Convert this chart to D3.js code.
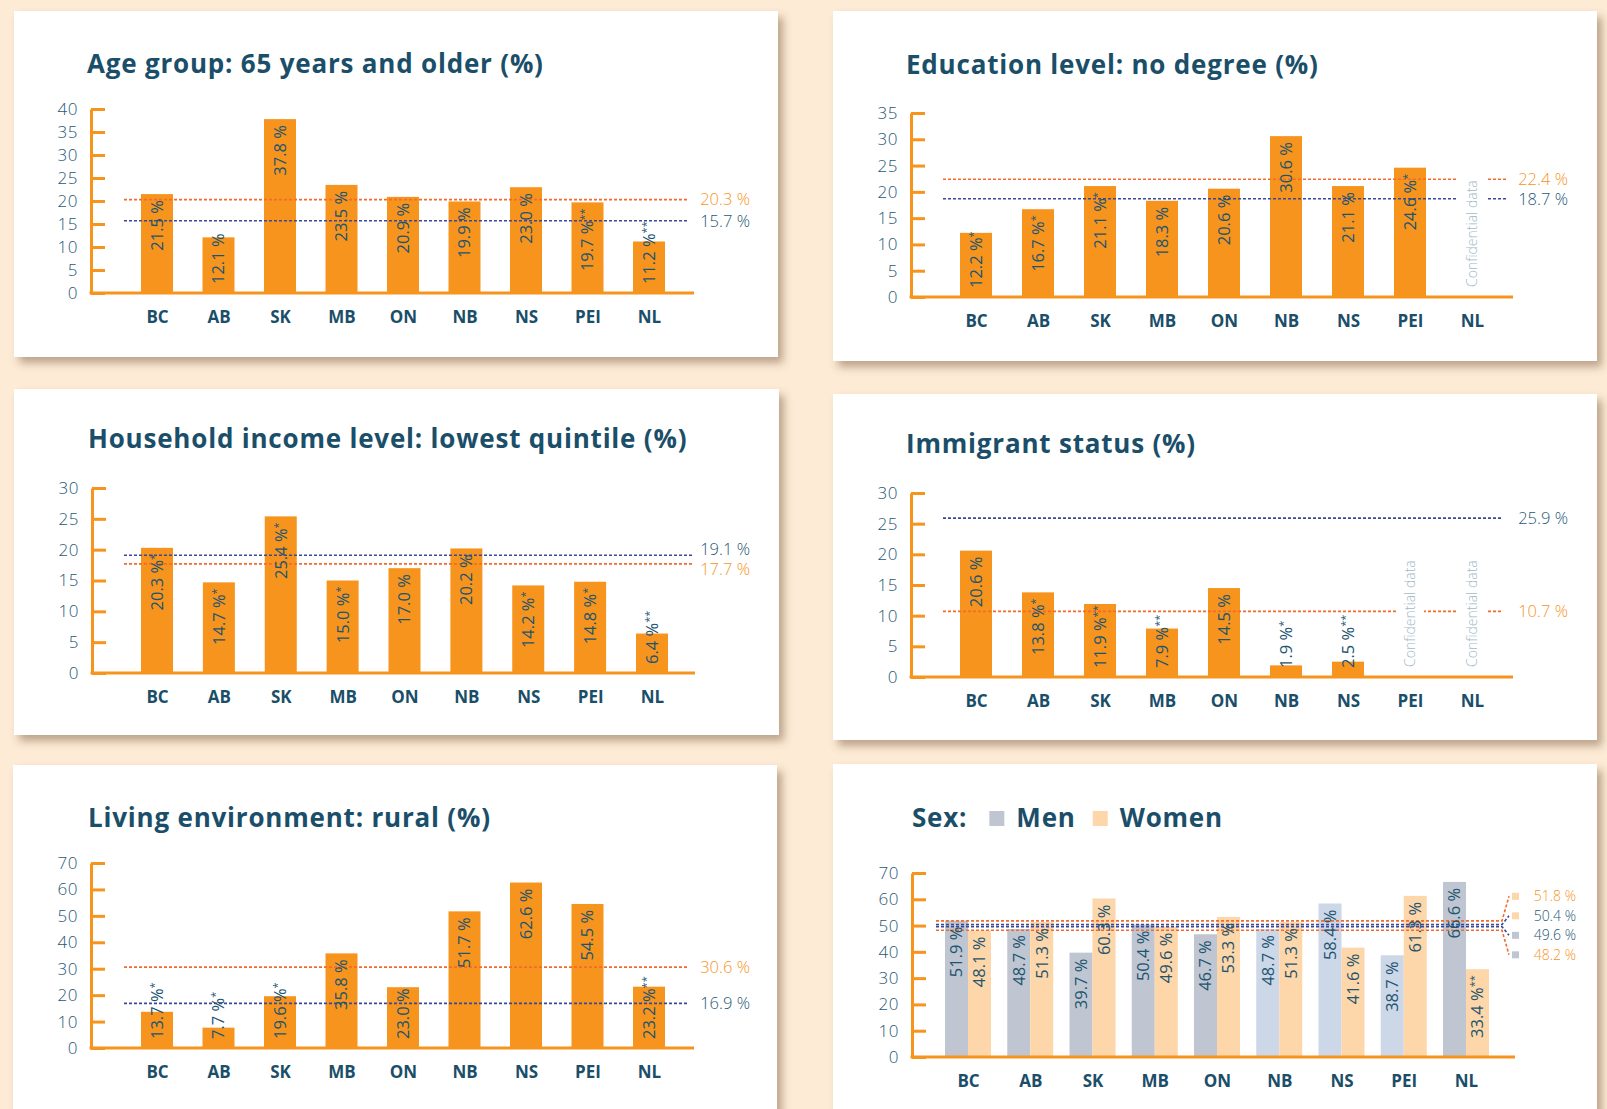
<!DOCTYPE html>
<html>
<head>
<meta charset="utf-8">
<script src="https://cdn.jsdelivr.net/npm/d3@7"></script>
<style>
html, body { margin: 0; padding: 0; background: #fdebd6; }
svg { display: block; font-family: "Open Sans", sans-serif; }
</style>
</head>
<body>
<svg id="chart" width="1607" height="1109"></svg>
<script>
// categories
const provinces = ["BC", "AB", "SK", "MB", "ON", "NB", "NS", "PEI", "NL"];

// Age group: 65 years and older
const ageValues = [21.5, 12.1, 37.8, 23.5, 20.9, 19.9, 23.0, 19.7, 11.2];
const ageFlags = ["", "", "", "", "", "", "", "**", "**"];
const ageRefs = [20.3, 15.7];          // [orange ref, blue ref]
const ageTicks = [0, 5, 10, 15, 20, 25, 30, 35, 40];

// Education level: no degree (null = confidential)
const eduValues = [12.2, 16.7, 21.1, 18.3, 20.6, 30.6, 21.1, 24.6, null];
const eduFlags = ["*", "*", "*", "", "", "", "", "*", ""];
const eduRefs = [22.4, 18.7];
const eduTicks = [0, 5, 10, 15, 20, 25, 30, 35];

// Household income level: lowest quintile
const incomeValues = [20.3, 14.7, 25.4, 15.0, 17.0, 20.2, 14.2, 14.8, 6.4];
const incomeFlags = ["*", "*", "*", "*", "", "", "*", "*", "**"];
const incomeRefs = [17.7, 19.1];
const incomeTicks = [0, 5, 10, 15, 20, 25, 30];

// Immigrant status
const immigValues = [20.6, 13.8, 11.9, 7.9, 14.5, 1.9, 2.5, null, null];
const immigFlags = ["", "*", "**", "**", "", "*", "**", "", ""];
const immigRefs = [10.7, 25.9];
const immigTicks = [0, 5, 10, 15, 20, 25, 30];

// Living environment: rural
const ruralValues = [13.7, 7.7, 19.6, 35.8, 23.0, 51.7, 62.6, 54.5, 23.2];
const ruralFlags = ["*", "*", "*", "", "", "", "", "", "**"];
const ruralRefs = [30.6, 16.9];
const ruralTicks = [0, 10, 20, 30, 40, 50, 60, 70];

// Sex
const menValues = [51.9, 48.7, 39.7, 50.4, 46.7, 48.7, 58.4, 38.7, 66.6];
const womenValues = [48.1, 51.3, 60.3, 49.6, 53.3, 51.3, 41.6, 61.3, 33.4];
const womenFlags = ["", "", "", "", "", "", "", "", "**"];
const menPale = ["NB", "NS", "PEI"];
const sexRefs = [
  {value: 51.8, ref: 0, sex: "women"},
  {value: 50.4, ref: 1, sex: "women"},
  {value: 49.6, ref: 1, sex: "men"},
  {value: 48.2, ref: 0, sex: "men"}
];
const sexTicks = [0, 10, 20, 30, 40, 50, 60, 70];

const COL = {
  axis: "#f7941d", bar: "#f7941d", text: "#1f5875", title: "#1a4e69",
  refLine: ["#f26b2d", "#3a4899"], refText: ["#f7941d", "#1f5875"],
  conf: "#9fb9c6", men: "#bfc6d1", menPale: "#ccd7e8", women: "#fdd6a9"
};

const layout = {
  age:    {x: 14,  y: 11,  w: 764, h: 346, titleX: 87,  titleY: 73,  axisX: 91,  top: 109, bottom: 293,  right: 694,  c0: 157, c1: 649,  lx0: 124, lx1: 689,  labelRight: 750},
  edu:    {x: 833, y: 11,  w: 764, h: 350, titleX: 906, titleY: 74,  axisX: 911, top: 113, bottom: 297,  right: 1513, c0: 976, c1: 1472, lx0: 943, lx1: 1506, labelRight: 1568},
  income: {x: 14,  y: 389, w: 765, h: 346, titleX: 88,  titleY: 448, axisX: 92,  top: 488, bottom: 673,  right: 695,  c0: 157, c1: 652,  lx0: 124, lx1: 692,  labelRight: 750},
  immig:  {x: 833, y: 394, w: 764, h: 346, titleX: 906, titleY: 453, axisX: 911, top: 493, bottom: 677,  right: 1513, c0: 976, c1: 1472, lx0: 943, lx1: 1501, labelRight: 1568},
  rural:  {x: 13,  y: 765, w: 764, h: 400, titleX: 88,  titleY: 827, axisX: 91,  top: 863, bottom: 1048, right: 694,  c0: 157, c1: 649,  lx0: 124, lx1: 689,  labelRight: 750},
  sex:    {x: 833, y: 764, w: 764, h: 400, titleX: 912, titleY: 827, axisX: 912, top: 873, bottom: 1057, right: 1515, c0: 968, c1: 1466, lx0: 936, lx1: 1502, labelRight: 1576}
};

const svg = d3.select("#chart");
const defs = svg.append("defs");
const filt = defs.append("filter").attr("id", "shadow")
  .attr("x", "-5%").attr("y", "-5%").attr("width", "115%").attr("height", "120%");
filt.append("feDropShadow").attr("dx", 5).attr("dy", 6).attr("stdDeviation", 4.5)
  .attr("flood-color", "#6b4a2a").attr("flood-opacity", 0.45);

svg.append("rect").attr("width", 1607).attr("height", 1109).attr("fill", "#fdebd6");

function titleText(g, x, y, s) {
  return g.append("text").attr("x", x).attr("y", y)
    .attr("fill", COL.title).attr("font-size", 26).attr("font-weight", 700)
    .attr("letter-spacing", 0.8).text(s);
}

// frame, title, axes -> returns scales
function frame(p, title, ticks) {
  const g = svg.append("g");
  g.append("rect").attr("x", p.x).attr("y", p.y).attr("width", p.w).attr("height", p.h)
    .attr("fill", "#fff").attr("filter", "url(#shadow)");
  const t = titleText(g, p.titleX, p.titleY, title);

  const y = d3.scaleLinear().domain([0, d3.max(ticks)]).range([p.bottom, p.top]);
  const x = d3.scalePoint().domain(provinces).range([p.c0, p.c1]);

  const yAxis = g.append("g").attr("transform", `translate(${p.axisX},0)`)
    .call(d3.axisLeft(y).tickValues(ticks).tickSizeInner(-14).tickSizeOuter(0).tickPadding(13));
  yAxis.select(".domain").attr("stroke", COL.axis).attr("stroke-width", 3);
  yAxis.selectAll(".tick line").attr("stroke", COL.axis).attr("stroke-width", 3);
  yAxis.selectAll(".tick text").attr("fill", COL.text).attr("font-size", 17)
    .attr("letter-spacing", 0.5).attr("font-weight", 300).attr("font-family", "Open Sans");

  const xAxis = g.append("g").attr("transform", `translate(0,${p.bottom})`)
    .call(d3.axisBottom(x).tickSize(0).tickPadding(18));
  xAxis.select(".domain").remove();
  xAxis.selectAll(".tick text").attr("fill", COL.title).attr("font-size", 17)
    .attr("font-weight", 700).attr("font-family", "Open Sans");

  return {g, x, y, t};
}

function baseline(f, p) {
  f.g.append("line").attr("x1", p.axisX - 1.5).attr("x2", p.right)
    .attr("y1", p.bottom).attr("y2", p.bottom)
    .attr("stroke", COL.axis).attr("stroke-width", 3);
}

// rotated value label inside the bar
function valueLabel(g, cx, yTop, yBottom, val, flag) {
  const t = g.append("text").attr("fill", "#1d5470").attr("font-size", 16.5)
    .attr("font-weight", 400).attr("dy", "0.36em");
  t.append("tspan").text(val.toFixed(1) + " %");
  if (flag) t.append("tspan").attr("font-size", 11).attr("dy", -5).text(flag);
  const len = t.node().getComputedTextLength();
  if (yBottom - yTop - 12 >= len) {
    t.attr("text-anchor", "end").attr("transform", `translate(${cx},${yTop + 6}) rotate(-90)`);
  } else {
    t.attr("text-anchor", "start").attr("transform", `translate(${cx},${yBottom - 9}) rotate(-90)`);
  }
}

function refLines(f, p, refs) {
  refs.forEach((v, i) => {
    f.g.append("line").attr("x1", p.lx0).attr("x2", p.lx1).attr("y1", f.y(v)).attr("y2", f.y(v))
      .attr("stroke", COL.refLine[i]).attr("stroke-width", 1.6).attr("stroke-dasharray", "3,2");
  });
  // labels, pushed apart when too close
  const ys = refs.map(v => f.y(v));
  if (Math.abs(ys[0] - ys[1]) < 20) {
    const mid = (ys[0] + ys[1]) / 2, s = ys[0] < ys[1] ? -1 : 1;
    ys[0] = mid + s * 10; ys[1] = mid - s * 10;
  }
  refs.forEach((v, i) => {
    f.g.append("text").attr("x", p.labelRight).attr("y", ys[i]).attr("dy", "0.35em")
      .attr("text-anchor", "end").attr("fill", COL.refText[i]).attr("font-size", 16.5)
      .attr("font-weight", 300).text(v.toFixed(1) + " %");
  });
}

function confidential(f, p, cat) {
  const cx = f.x(cat), y0 = f.y(0) - 10;
  const t = f.g.append("text").attr("fill", COL.conf).attr("font-size", 14).attr("font-weight", 300)
    .attr("dy", "0.35em").attr("transform", `translate(${cx},${y0}) rotate(-90)`).text("Confidential data");
  const len = t.node().getComputedTextLength();
  f.g.insert("rect", () => t.node()).attr("x", cx - 14).attr("y", y0 - len - 4)
    .attr("width", 28).attr("height", len + 8).attr("fill", "#fff");
}

function simpleChart(key, title, values, flags, refs, ticks) {
  const p = layout[key];
  const f = frame(p, title, ticks);
  const bw = 32;
  const data = provinces.map((c, i) => ({c, v: values[i], flag: flags[i]}));
  f.g.selectAll("rect.bar").data(data.filter(d => d.v !== null)).join("rect").attr("class", "bar")
    .attr("x", d => f.x(d.c) - bw / 2).attr("width", bw)
    .attr("y", d => f.y(d.v)).attr("height", d => f.y(0) - f.y(d.v))
    .attr("fill", COL.bar);
  baseline(f, p);
  refLines(f, p, refs);
  data.forEach(d => {
    if (d.v === null) confidential(f, p, d.c);
    else valueLabel(f.g, f.x(d.c), f.y(d.v), f.y(0), d.v, d.flag);
  });
}

simpleChart("age", "Age group: 65 years and older (%)", ageValues, ageFlags, ageRefs, ageTicks);
simpleChart("edu", "Education level: no degree (%)", eduValues, eduFlags, eduRefs, eduTicks);
simpleChart("income", "Household income level: lowest quintile (%)", incomeValues, incomeFlags, incomeRefs, incomeTicks);
simpleChart("immig", "Immigrant status (%)", immigValues, immigFlags, immigRefs, immigTicks);
simpleChart("rural", "Living environment: rural (%)", ruralValues, ruralFlags, ruralRefs, ruralTicks);

// Sex chart: grouped bars
(function () {
  const p = layout.sex;
  const f = frame(p, "Sex:", sexTicks);
  // legend in the title line
  let lx = p.titleX + f.t.node().getComputedTextLength() + 22;
  [["men", "Men"], ["women", "Women"]].forEach(([k, name]) => {
    f.g.append("rect").attr("x", lx).attr("y", p.titleY - 16).attr("width", 15).attr("height", 15)
      .attr("fill", COL[k]);
    const tt = titleText(f.g, lx + 27, p.titleY, name);
    lx += 27 + tt.node().getComputedTextLength() + 17;
  });

  const sub = d3.scaleBand().domain(["men", "women"]).range([-23, 23]);
  const data = provinces.map((c, i) => ({c, men: menValues[i], women: womenValues[i], flag: womenFlags[i]}));
  const groups = f.g.selectAll("g.grp").data(data).join("g").attr("class", "grp")
    .attr("transform", d => `translate(${f.x(d.c)},0)`);
  groups.selectAll("rect").data(d => ["men", "women"].map(k => ({k, v: d[k], c: d.c})))
    .join("rect")
    .attr("x", d => sub(d.k)).attr("width", sub.bandwidth())
    .attr("y", d => f.y(d.v)).attr("height", d => f.y(0) - f.y(d.v))
    .attr("fill", d => d.k === "men" ? (menPale.includes(d.c) ? COL.menPale : COL.men) : COL.women);
  baseline(f, p);

  // reference lines with leaders to stacked labels
  const ys = sexRefs.map(r => f.y(r.value));
  const mid = d3.mean(ys);
  sexRefs.forEach((r, i) => {
    const yl = mid + (i - 1.5) * 19.5;
    f.g.append("path")
      .attr("d", `M${p.lx0},${ys[i]}H${p.lx1}L${p.lx1 + 7},${yl}`)
      .attr("fill", "none").attr("stroke", COL.refLine[r.ref]).attr("stroke-width", 1.6)
      .attr("stroke-dasharray", "3,2");
    f.g.append("rect").attr("x", p.lx1 + 10).attr("y", yl - 3.5).attr("width", 7).attr("height", 7)
      .attr("fill", COL[r.sex]);
    f.g.append("text").attr("x", p.labelRight).attr("y", yl).attr("dy", "0.35em")
      .attr("text-anchor", "end").attr("fill", COL.refText[r.ref]).attr("font-size", 14)
      .attr("font-weight", 300).text(r.value.toFixed(1) + " %");
  });

  data.forEach(d => {
    const cx = f.x(d.c);
    valueLabel(f.g, cx + sub("men") + sub.bandwidth() / 2, f.y(d.men), f.y(0), d.men, "");
    valueLabel(f.g, cx + sub("women") + sub.bandwidth() / 2, f.y(d.women), f.y(0), d.women, d.flag);
  });
})();
</script>
</body>
</html>
